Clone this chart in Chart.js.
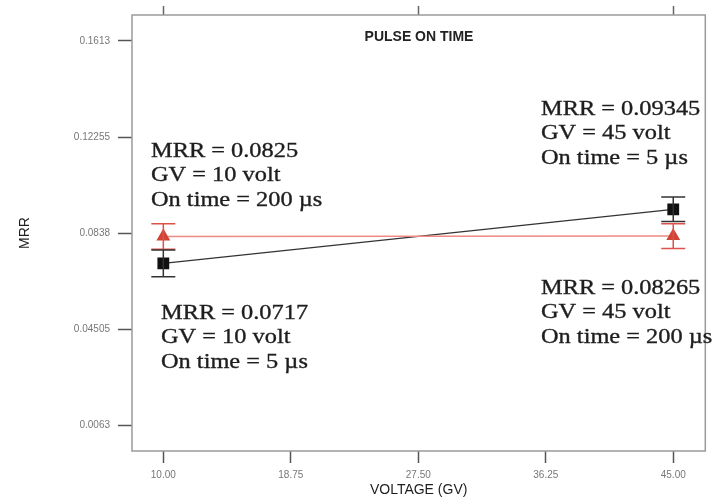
<!DOCTYPE html>
<html>
<head>
<meta charset="utf-8">
<script src="https://cdn.jsdelivr.net/npm/chart.js@4"></script>
<style>
  body { margin: 0; background: #fff; }
  #wrap { width: 714px; height: 502px; }
</style>
</head>
<body>
<div id="wrap"><canvas id="chart" width="714" height="502"></canvas></div>
<script>
// data
const voltage = [10, 45];
const mrrOn5 = [0.0717, 0.09345];
const mrrOn200 = [0.0825, 0.08265];
const errOn5 = [0.0054, 0.0049];
const errOn200 = [0.0051, 0.0050];

const xTicks = [10, 18.75, 27.5, 36.25, 45];
const xTickLabels = ["10.00", "18.75", "27.50", "36.25", "45.00"];
const topTicks = [10, 27.5, 45];
const yTicks = [0.0063, 0.04505, 0.0838, 0.12255, 0.1613];
const yTickLabels = ["0.0063", "0.04505", "0.0838", "0.12255", "0.1613"];

const notes = [
  ["MRR = 0.0825", "GV = 10 volt", "On time = 200 µs"],
  ["MRR = 0.0717", "GV = 10 volt", "On time = 5 µs"],
  ["MRR = 0.09345", "GV = 45 volt", "On time = 5 µs"],
  ["MRR = 0.08265", "GV = 45 volt", "On time = 200 µs"],
];
// where each note block starts (pixels)
const notePos = [[151, 151], [161, 313], [541, 109], [541, 288]];

// vertical error bars with caps
const errorBars = {
  id: "errorBars",
  afterDatasetsDraw(chart) {
    const ctx = chart.ctx;
    const xs = chart.scales.x, ys = chart.scales.y;
    chart.data.datasets.forEach(ds => {
      if (!ds.errors) return;
      ctx.save();
      ctx.strokeStyle = ds.errColor;
      ctx.lineWidth = 1.5;
      ds.data.forEach((p, i) => {
        const x = xs.getPixelForValue(p.x);
        const y1 = ys.getPixelForValue(p.y + ds.errors[i]);
        const y2 = ys.getPixelForValue(p.y - ds.errors[i]);
        ctx.beginPath();
        ctx.moveTo(x, y1); ctx.lineTo(x, y2);
        ctx.moveTo(x - 12, y1); ctx.lineTo(x + 12, y1);
        ctx.moveTo(x - 12, y2); ctx.lineTo(x + 12, y2);
        ctx.stroke();
      });
      ctx.restore();
    });
  }
};

// frame, inner title and text notes
const decor = {
  id: "decor",
  afterDraw(chart) {
    const ctx = chart.ctx;
    const a = chart.chartArea;
    ctx.save();
    ctx.strokeStyle = "#9a9a9a";
    ctx.lineWidth = 1.5;
    ctx.strokeRect(a.left, a.top, a.right - a.left, a.bottom - a.top);

    ctx.fillStyle = "#222";
    ctx.font = "bold 14px 'Liberation Sans', Arial, sans-serif";
    ctx.textAlign = "center";
    ctx.textBaseline = "middle";
    ctx.fillText("PULSE ON TIME", 419, 37);

    ctx.font = "21px 'Liberation Serif', 'Times New Roman', serif";
    ctx.textAlign = "left";
    ctx.fillStyle = "#1e1e1e";
    ctx.strokeStyle = "#1e1e1e";
    ctx.lineWidth = 0.35;
    notes.forEach((lines, k) => {
      const [x0, y0] = notePos[k];
      lines.forEach((t, j) => {
        ctx.save();
        ctx.translate(x0, y0 + j * 24.7);
        ctx.scale(1.16, 1);
        ctx.fillText(t, 0, 0);
        ctx.strokeText(t, 0, 0);
        ctx.restore();
      });
    });
    ctx.restore();
  }
};

const tickFont = { family: "'Liberation Sans', Arial, sans-serif", size: 10 };

new Chart(document.getElementById("chart"), {
  type: "scatter",
  data: {
    datasets: [
      {
        label: "On time = 200",
        data: voltage.map((v, i) => ({ x: v, y: mrrOn200[i] })),
        errors: errOn200,
        errColor: "#e0504a",
        showLine: true,
        borderColor: "#ec8a84",
        borderWidth: 1.5,
        pointStyle: "triangle",
        pointRadius: 6.5,
        pointBackgroundColor: "#cf4436",
        pointBorderColor: "#cf4436",
      },
      {
        label: "On time = 5",
        data: voltage.map((v, i) => ({ x: v, y: mrrOn5[i] })),
        errors: errOn5,
        errColor: "#333",
        showLine: true,
        borderColor: "#333",
        borderWidth: 1.2,
        pointStyle: "rect",
        pointRadius: 7.5,
        pointBackgroundColor: "#111",
        pointBorderColor: "#111",
      },
    ],
  },
  options: {
    responsive: false,
    animation: false,
    devicePixelRatio: 1,
    layout: { padding: { right: 7 } },
    plugins: { legend: { display: false }, tooltip: { enabled: false } },
    scales: {
      x: {
        type: "linear",
        position: "bottom",
        min: 7.85,
        max: 47.2,
        afterBuildTicks: s => { s.ticks = xTicks.map(v => ({ value: v })); },
        afterFit: s => { s.height = 51; },
        border: { display: false },
        grid: { drawOnChartArea: false, drawTicks: true, tickLength: 12, tickColor: "#555", tickWidth: 1.5 },
        ticks: {
          padding: 6,
          color: "#777",
          font: tickFont,
          maxRotation: 0,
          callback: (v, i) => xTickLabels[i],
        },
        title: {
          display: true,
          text: "VOLTAGE (GV)",
          color: "#1e1e1e",
          font: { family: "'Liberation Sans', Arial, sans-serif", size: 14 },
          padding: { top: 0, bottom: 3 },
        },
      },
      xTop: {
        type: "linear",
        position: "top",
        min: 7.85,
        max: 47.2,
        afterBuildTicks: s => { s.ticks = topTicks.map(v => ({ value: v })); },
        afterFit: s => { s.height = 15; },
        border: { display: false },
        grid: { drawOnChartArea: false, drawTicks: true, tickLength: 9, tickColor: "#666", tickWidth: 1.5 },
        ticks: { display: false },
      },
      y: {
        type: "linear",
        position: "left",
        min: -0.0039,
        max: 0.1717,
        afterBuildTicks: s => { s.ticks = yTicks.map(v => ({ value: v })); },
        afterFit: s => { s.width = 132; },
        border: { display: false },
        grid: { drawOnChartArea: false, drawTicks: true, tickLength: 14, tickColor: "#555", tickWidth: 1.5 },
        ticks: {
          padding: 8,
          color: "#777",
          font: tickFont,
          callback: (v, i) => yTickLabels[i],
        },
        title: {
          display: true,
          text: "MRR",
          color: "#1e1e1e",
          font: { family: "'Liberation Sans', Arial, sans-serif", size: 14 },
          padding: { top: 17, bottom: 0 },
        },
      },
    },
  },
  plugins: [errorBars, decor],
});
</script>
</body>
</html>
